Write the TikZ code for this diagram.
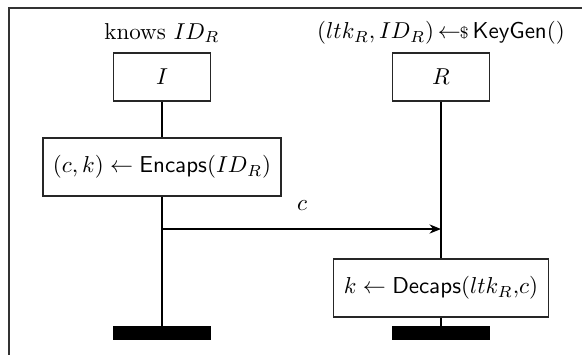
\documentclass[tikz,border=0pt]{standalone}
\usetikzlibrary{arrows.meta}
\begin{document}
\begin{tikzpicture}[x=0.4347pt,y=-0.4347pt,
  frameline/.style={draw=black!80, line width=0.6pt},
  actor/.style={draw=black!85, line width=0.6pt, fill=white, minimum width=42.2pt, minimum height=20.9pt, inner sep=0pt},
  op/.style={draw=black!85, line width=0.6pt, fill=white, minimum height=25.2pt, inner sep=0pt},
  endbar/.style={fill=black, minimum width=43pt, minimum height=5.7pt, inner sep=0pt},
  life/.style={line width=0.8pt},
  msg/.style={line width=0.6pt, -{Stealth[length=5pt,width=4pt]}},
  lbl/.style={inner sep=0pt}
]
\useasboundingbox (0,0) rectangle (582,354);
\clip (0,0) rectangle (582,354);
\draw[frameline] (9,8) rectangle (640,420);

\node[lbl] (kI) at (162,33) {knows $ID_R$};
\node[lbl] (kR) at (441,33) {$(ltk_R, ID_R)\,{\leftarrow\!\!{\scriptstyle\$}}\,\mathsf{KeyGen}()$};

\node[actor] (I) at (162,77) {$I$};
\node[actor] (R) at (441,77) {$R$};

\node[op, minimum width=103.5pt] (enc) at (162,167) {$(c,k) \leftarrow \mathsf{Encaps}(ID_R)$};
\node[op, minimum width=93.5pt] (dec) at (441,288) {$k \leftarrow \mathsf{Decaps}(ltk_R{,}c)$};

\node[endbar] (bI) at (162,333) {};
\node[endbar] (bR) at (441,333) {};

\draw[life] (I.south) -- (enc.north);
\draw[life] (enc.south) -- (bI.north);
\draw[life] (R.south) -- (dec.north);
\draw[life] (dec.south) -- (bR.north);

\coordinate (mI) at (162,229);
\coordinate (mR) at (441,229);
\draw[msg] (mI) -- (mR);
\node[lbl] (cl) at (302,206) {$c$};
\end{tikzpicture}
\end{document}
